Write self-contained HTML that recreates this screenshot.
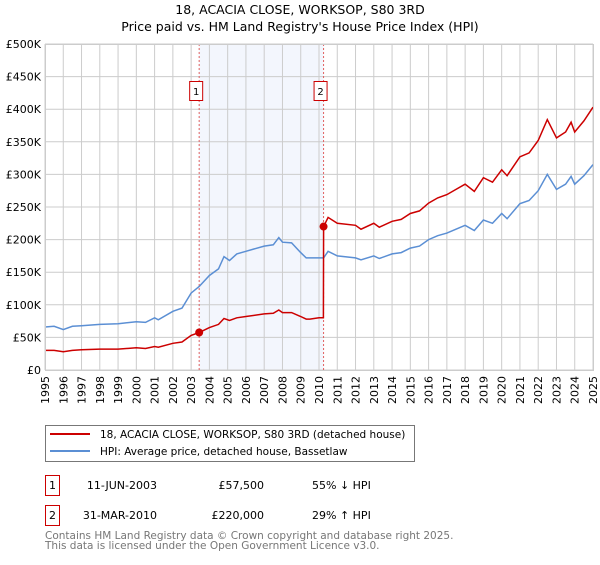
<!DOCTYPE html>
<html><head><meta charset="utf-8"><style>
body{margin:0;background:#fff;font-family:"Liberation Sans","DejaVu Sans",sans-serif}
svg text{font-family:"DejaVu Sans","Liberation Sans",sans-serif}
</style></head><body>
<svg id="c" width="600" height="560" xmlns="http://www.w3.org/2000/svg">
<text x="300" y="14" text-anchor="middle" font-size="12.5">18, ACACIA CLOSE, WORKSOP, S80 3RD</text>
<text x="300" y="31" text-anchor="middle" font-size="12.5">Price paid vs. HM Land Registry's House Price Index (HPI)</text>
<g id="plot"></g>
<rect x="45.5" y="425.5" width="369" height="36" fill="none" stroke="#777"/>
<line x1="50" y1="434" x2="90" y2="434" stroke="#cc0000" stroke-width="2"/>
<text x="100" y="438" font-size="10.5">18, ACACIA CLOSE, WORKSOP, S80 3RD (detached house)</text>
<line x1="50" y1="451" x2="90" y2="451" stroke="#5b8fd4" stroke-width="2"/>
<text x="100" y="455" font-size="10.5">HPI: Average price, detached house, Bassetlaw</text>
<rect x="45.5" y="475.5" width="14" height="20" fill="#fff" stroke="#cc0000"/>
<text x="52.5" y="489" font-size="11" text-anchor="middle">1</text>
<text x="157" y="489" font-size="11" text-anchor="end">11-JUN-2003</text>
<text x="264" y="489" font-size="11" text-anchor="end">£57,500</text>
<text x="312" y="489" font-size="11">55% ↓ HPI</text>
<rect x="45.5" y="505.5" width="14" height="20" fill="#fff" stroke="#cc0000"/>
<text x="52.5" y="519" font-size="11" text-anchor="middle">2</text>
<text x="157" y="519" font-size="11" text-anchor="end">31-MAR-2010</text>
<text x="264" y="519" font-size="11" text-anchor="end">£220,000</text>
<text x="312" y="519" font-size="11">29% ↑ HPI</text>
<text x="45" y="539" font-size="10.5" fill="#777">Contains HM Land Registry data © Crown copyright and database right 2025.</text>
<text x="45" y="549" font-size="10.5" fill="#777">This data is licensed under the Open Government Licence v3.0.</text>
</svg>
<script>
const dates=[1995,1995.5,1996,1996.5,1997,1998,1999,2000,2000.5,2001,2001.2,2002,2002.5,2003,2003.44,2004,2004.5,2004.8,2005.1,2005.5,2006,2007,2007.5,2007.8,2008,2008.5,2009,2009.3,2009.5,2010,2010.24,2010.25,2010.5,2011,2012,2012.3,2013,2013.3,2014,2014.5,2015,2015.5,2016,2016.5,2017,2017.5,2018,2018.5,2019,2019.5,2020,2020.3,2021,2021.5,2022,2022.5,2023,2023.5,2023.8,2024,2024.5,2025];
const hpi=[66,67,62,67,68,70,71,74,73,80,77,90,95,118,128,145,155,174,168,178,182,190,192,203,196,195,180,172,172,172,172,172,182,175,172,169,175,171,178,180,187,190,200,206,210,216,222,214,230,225,240,232,255,260,275,300,277,285,297,285,298,315];
const price=[30,30,28,30,31,32,32,34,33,36,35,41,43,53,57.5,65,70,79,76,80,82,86,87,92,88,88,82,78,78,80,80,220,234,225,222,216,225,219,228,231,240,244,256,264,269,277,285,274,295,288,307,298,327,333,352,384,356,365,380,365,382,403];
const sales=[[2003.44,57.5],[2010.25,220]];
const yTicks=[0,50,100,150,200,250,300,350,400,450,500];
const yLabels=["£0","£50K","£100K","£150K","£200K","£250K","£300K","£350K","£400K","£450K","£500K"];
const years=[];for(let y=1995;y<=2025;y++)years.push(y);
const X0=45,X1=593,Y0=370,Y1=44;
const xs=d=>X0+(d-1995)/30*(X1-X0), ys=v=>Y0-v/500*(Y0-Y1);
const NS="http://www.w3.org/2000/svg",g=document.getElementById('plot');
function mk(t,a){const e=document.createElementNS(NS,t);for(const k in a)e.setAttribute(k,a[k]);g.appendChild(e);return e;}
let e=mk('rect',{x:xs(2003.44),y:Y1,width:xs(2010.25)-xs(2003.44),height:Y0-Y1,fill:'#f3f6fd'});


years.forEach(y=>{const l=mk('line',{x1:xs(y),x2:xs(y),y1:Y1,y2:Y0,stroke:'#ccc'});


const t=mk('text',{x:0,y:0,'font-size':11,'text-anchor':'end',transform:`translate(${xs(y)+4},${Y0+6}) rotate(-90)`});t.textContent=y;

});
yTicks.forEach((v,i)=>{const l=mk('line',{x1:X0,x2:X1,y1:ys(v),y2:ys(v),stroke:'#ccc'});


const t=mk('text',{x:41,y:ys(v)+4,'font-size':11,'text-anchor':'end'});t.textContent=yLabels[i];

});
sales.forEach((s,i)=>{const l=mk('line',{x1:xs(s[0]),x2:xs(s[0]),y1:Y1,y2:Y0,stroke:'#e06060','stroke-dasharray':'2,2'});


const r=mk('rect',{x:xs(s[0])-9.5,y:81.5,width:13,height:19,fill:'#fff',stroke:'#cc0000'});


const t=mk('text',{x:xs(s[0])-3,y:95,'font-size':10,'text-anchor':'middle'});t.textContent=i+1;

});
const pts=a=>a.map((v,i)=>xs(dates[i]).toFixed(1)+','+ys(v).toFixed(1)).join(' ');
let h=mk('polyline',{points:pts(hpi),fill:'none',stroke:'#5b8fd4','stroke-width':1.5});


let p=mk('polyline',{points:pts(price),fill:'none',stroke:'#cc0000','stroke-width':1.5});


sales.forEach((s,i)=>{const c=mk('circle',{cx:xs(s[0]),cy:ys(s[1]),r:4,fill:'#cc0000'});

});
let ax=mk('rect',{x:X0+0.5,y:Y1+0.5,width:X1-X0,height:Y0-Y1,fill:'none',stroke:'#ccc'});


</script>
</body></html>
